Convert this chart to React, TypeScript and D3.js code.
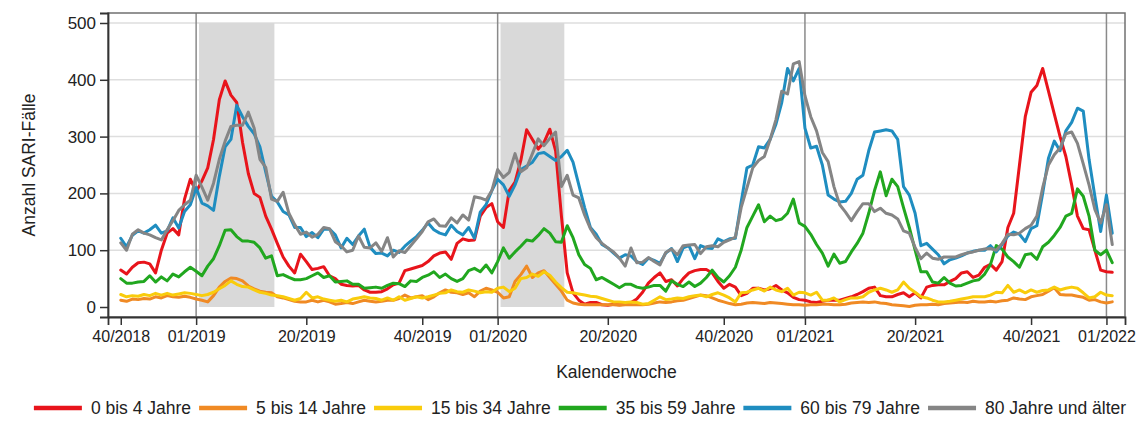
import React, { useEffect, useRef } from 'react';
import * as d3 from 'd3';

// Kalenderwochen 40/2018 .. 02/2022 (2020 hatte 53 Wochen)
const yearSpans: [number, number, number][] = [
  [2018, 40, 52],
  [2019, 1, 52],
  [2020, 1, 53],
  [2021, 1, 52],
  [2022, 1, 2],
];
const weeks: string[] = [];
yearSpans.forEach(([year, from, to]) => {
  for (let w = from; w <= to; w++) weeks.push(`${String(w).padStart(2, '0')}/${year}`);
});

const tickLabels = ['40/2018', '01/2019', '20/2019', '40/2019', '01/2020', '20/2020', '40/2020', '01/2021', '20/2021', '40/2021', '01/2022'];
const seasonStarts = ['01/2019', '01/2020', '01/2021', '01/2022'];
const shadedPeriods: [string, string][] = [['02/2019', '14/2019'], ['02/2020', '12/2020']];
const yTicks = [0, 100, 200, 300, 400, 500];

const seriesNames = ['0 bis 4 Jahre', '5 bis 14 Jahre', '15 bis 34 Jahre', '35 bis 59 Jahre', '60 bis 79 Jahre', '80 Jahre und älter'];
const seriesColors = ['#e8141b', '#f08a24', '#f9cc0c', '#21a71f', '#1f8dc0', '#858585'];

const age0to4 = [
  65, 58, 70, 78, 79, 76, 60, 100, 130, 138,
  127, 190, 225, 203, 222, 245, 295, 365, 398, 373,
  360, 290, 235, 200, 193, 160, 137, 112, 88, 72,
  60, 93, 80, 66, 68, 71, 55, 50, 40, 38,
  37, 38, 30, 26, 26, 27, 32, 39, 42, 64,
  67, 70, 73, 80, 90, 95, 97, 84, 112, 120,
  117, 118, 160, 175, 182, 150, 140, 205, 220, 258,
  312, 295, 278, 290, 313, 275, 160, 60, 25, 12,
  5, 8, 8, 4, 3, 5, 4, 5, 8, 14,
  26, 42, 52, 60, 45, 48, 37, 50, 60, 64,
  66, 66, 60, 45, 33, 40, 35, 20, 24, 33,
  33, 30, 32, 38, 30, 25, 17, 13, 12, 9,
  8, 10, 12, 12, 12, 15, 18, 22, 27, 33,
  35, 20, 18, 18, 22, 25, 18, 25, 16, 35,
  38, 39, 39, 45, 50, 60, 62, 52, 56, 70,
  75, 65, 80, 140, 165, 250, 335, 378, 390, 420,
  380, 340, 300, 265, 215, 160, 138, 136, 100, 65,
  62, 61,
];

const age5to14 = [
  12, 10, 14, 13, 15, 14, 18, 16, 20, 18,
  17, 19, 17, 14, 12, 9, 20, 35, 45, 51,
  50, 46, 37, 32, 28, 26, 25, 18, 16, 13,
  10, 9, 9, 12, 9, 12, 9, 5, 6, 8,
  6, 9, 12, 10, 9, 10, 12, 12, 15, 21,
  16, 18, 20, 13, 18, 25, 30, 26, 25, 22,
  25, 18, 28, 33, 30, 26, 16, 18, 45, 57,
  72, 52, 60, 64, 52, 40, 28, 12, 7, 5,
  4, 4, 4, 4, 4, 4, 3, 4, 4, 4,
  4, 5, 7, 9, 8, 9, 11, 12, 15, 18,
  21, 20, 16, 12, 9, 6, 4, 5, 7, 8,
  7, 6, 8, 7, 6, 5, 4, 4, 3, 4,
  4, 5, 5, 4, 4, 5, 7, 8, 9, 8,
  9, 7, 6, 4, 3, 2, 1, 3, 4, 4,
  5, 4, 6, 7, 8, 9, 8, 10, 9, 9,
  10, 9, 11, 12, 16, 14, 13, 18, 20, 22,
  28, 34, 22, 21, 21, 19, 17, 12, 13, 9,
  7, 9,
];

const age15to34 = [
  22, 18, 20, 19, 22, 20, 24, 21, 24, 21,
  23, 25, 24, 22, 20, 22, 26, 32, 38, 46,
  40, 36, 35, 30, 26, 24, 21, 20, 18, 15,
  12, 15, 26, 16, 18, 14, 12, 10, 12, 9,
  14, 16, 18, 16, 15, 12, 16, 12, 18, 12,
  15, 18, 16, 18, 21, 24, 25, 30, 27, 26,
  30, 28, 25, 27, 26, 33, 35, 27, 33, 50,
  52, 58, 54, 62, 56, 44, 34, 26, 25, 23,
  21, 19, 18, 15, 12, 9, 9, 8, 9, 8,
  5, 6, 12, 18, 13, 14, 16, 15, 18, 20,
  21, 18, 22, 25, 21, 16, 9, 25, 26, 30,
  33, 28, 35, 30, 27, 33, 21, 26, 25, 21,
  26, 12, 12, 16, 9, 13, 16, 16, 18, 26,
  30, 33, 30, 26, 30, 44, 33, 26, 18, 16,
  12, 9, 9, 10, 12, 14, 16, 18, 18, 18,
  21, 26, 25, 38, 26, 30, 25, 30, 26, 29,
  30, 35, 30, 33, 35, 33, 25, 16, 18, 26,
  21, 20,
];

const age35to59 = [
  50, 42, 42, 44, 45, 55, 44, 53, 46, 58,
  53, 62, 70, 63, 55, 72, 85, 108, 135, 136,
  124, 116, 116, 114, 104, 86, 90, 55, 57, 52,
  48, 48, 50, 55, 60, 52, 55, 44, 45, 46,
  40, 40, 33, 34, 35, 33, 38, 42, 41, 36,
  46, 45, 52, 56, 62, 52, 58, 50, 45, 50,
  64, 68, 62, 74, 60, 80, 104, 86, 97, 107,
  118, 116, 126, 138, 130, 115, 114, 143, 122, 92,
  75, 68, 48, 52, 46, 40, 34, 40, 40, 35,
  33, 35, 38, 38, 28, 46, 40, 36, 44, 36,
  42, 52, 65, 52, 44, 55, 70, 100, 140, 160,
  180, 150, 160, 152, 155, 165, 190, 148, 142, 128,
  110, 95, 72, 93, 77, 80, 97, 112, 130, 165,
  205, 238, 196, 225, 212, 175, 140, 100, 62, 62,
  44, 42, 52, 42, 37, 38, 42, 46, 48, 58,
  75, 108, 102, 88, 80, 70, 92, 94, 84, 106,
  114, 126, 140, 160, 165, 208, 195, 160, 100, 92,
  100, 78,
];

const age60to79 = [
  121, 106, 126, 134, 130, 136, 144, 130, 134, 157,
  139, 168, 180, 210, 183, 178, 170, 230, 282, 295,
  355, 335, 318, 305, 282, 238, 195, 185, 168, 162,
  140, 140, 124, 131, 122, 137, 137, 127, 104, 121,
  110, 125, 137, 105, 94, 95, 90, 100, 96, 107,
  116, 124, 135, 148, 136, 130, 127, 144, 133, 127,
  140, 121, 167, 180, 205, 225, 215, 195, 215, 242,
  248, 255, 270, 272, 265, 258, 265, 276, 255, 215,
  175, 140, 128, 110, 104, 95, 86, 92, 90, 80,
  75, 86, 82, 77, 95, 103, 80, 104, 108, 85,
  108, 104, 103, 120, 115, 120, 121, 185, 245, 250,
  282, 280, 295, 322, 360, 420, 398, 420, 315, 280,
  283, 250, 197, 190, 185, 186, 200, 225, 232, 275,
  308, 310, 312, 310, 295, 212, 197, 165, 108, 112,
  102, 92, 76, 83, 86, 90, 95, 98, 100, 100,
  108, 97, 110, 125, 132, 128, 115, 138, 143, 200,
  262, 292, 275, 310, 325, 350, 345, 260, 195, 133,
  197, 130,
];

const age80plus = [
  113, 100, 128, 136, 130, 127, 122, 118, 136, 152,
  170, 180, 188, 232, 211, 188, 218, 260, 292, 318,
  320, 320, 343, 315, 260, 246, 190, 186, 202, 165,
  145, 128, 132, 123, 128, 140, 138, 115, 108, 97,
  100, 125, 105, 104, 113, 98, 122, 88, 99, 96,
  108, 120, 133, 150, 155, 143, 142, 157, 148, 162,
  153, 194, 192, 188, 205, 242, 228, 237, 270, 238,
  245, 270, 296, 284, 297, 308, 212, 232, 197, 192,
  162, 138, 122, 112, 104, 97, 86, 72, 104, 78,
  79, 87, 80, 74, 96, 102, 92, 108, 109, 110,
  94, 106, 108, 106, 114, 118, 123, 175, 210, 245,
  258, 265, 295, 330, 380, 375, 428, 432, 372, 335,
  310, 272, 256, 212, 180, 167, 152, 168, 182, 182,
  168, 174, 165, 162, 155, 134, 130, 105, 85, 95,
  86, 84, 88, 88, 88, 92, 95, 97, 100, 102,
  103, 100, 112, 128, 127, 130, 138, 144, 160, 210,
  250, 268, 280, 305, 308, 288, 252, 215, 172, 148,
  180, 110,
];

const seriesValues = [age0to4, age5to14, age15to34, age35to59, age60to79, age80plus];

const W = 1148;
const H = 426;
const FONT = '"Liberation Sans", Arial, Helvetica, sans-serif';

const App: React.FC = () => {
  const svgRef = useRef<SVGSVGElement>(null);

  useEffect(() => {
    if (!svgRef.current) return;
    const svg = d3.select(svgRef.current);
    svg.selectAll('*').remove();

    const plot = { left: 108, right: 1125, top: 13, bottom: 317 };

    const x = d3.scaleLinear()
      .domain([-2.2, weeks.length + 1.2])
      .range([plot.left, plot.right]);
    const y = d3.scaleLinear()
      .domain([-17.6, 517.6])
      .range([plot.bottom, plot.top]);
    const wx = (label: string) => x(weeks.indexOf(label));
    const halfWeek = (x(1) - x(0)) / 2;

    svg.append('rect').attr('width', W).attr('height', H).attr('fill', '#fff');

    // Gitternetz
    svg.append('g')
      .selectAll('line')
      .data(yTicks.filter(t => t > 0))
      .join('line')
      .attr('x1', plot.left).attr('x2', plot.right)
      .attr('y1', d => y(d)).attr('y2', d => y(d))
      .attr('stroke', '#dedede').attr('stroke-width', 1.5);

    // schattierte Zeiträume
    svg.append('g')
      .selectAll('rect')
      .data(shadedPeriods)
      .join('rect')
      .attr('x', d => wx(d[0]) - halfWeek)
      .attr('width', d => wx(d[1]) - wx(d[0]) + 2 * halfWeek)
      .attr('y', y(500))
      .attr('height', y(0) - y(500))
      .attr('fill', '#d9d9d9');

    // Jahreswechsel
    svg.append('g')
      .selectAll('line')
      .data(seasonStarts)
      .join('line')
      .attr('x1', d => wx(d)).attr('x2', d => wx(d))
      .attr('y1', plot.top).attr('y2', plot.bottom)
      .attr('stroke', '#8a8a8a').attr('stroke-width', 1.5);

    // Linien
    const line = d3.line<number>()
      .x((_, i) => x(i))
      .y(d => y(d));

    svg.append('g')
      .selectAll('path')
      .data(seriesValues)
      .join('path')
      .attr('d', d => line(d))
      .attr('fill', 'none')
      .attr('stroke', (_, i) => seriesColors[i])
      .attr('stroke-width', 3)
      .attr('stroke-linejoin', 'round')
      .attr('stroke-linecap', 'round');

    // Rahmen
    svg.append('rect')
      .attr('x', plot.left).attr('y', plot.top)
      .attr('width', plot.right - plot.left).attr('height', plot.bottom - plot.top)
      .attr('fill', 'none').attr('stroke', '#707070').attr('stroke-width', 1.5);

    // Achsen
    const yAxis = svg.append('g')
      .attr('transform', `translate(${plot.left},0)`)
      .call(d3.axisLeft(y).tickValues(yTicks).tickSize(8).tickPadding(4));
    yAxis.select('.domain').attr('stroke', '#333').attr('stroke-width', 1.8);
    yAxis.selectAll('.tick line').attr('stroke', '#333').attr('stroke-width', 1.5);
    yAxis.selectAll('.tick text')
      .attr('font-family', FONT).attr('font-size', 17).attr('fill', '#222');

    const xAxis = svg.append('g')
      .attr('transform', `translate(0,${plot.bottom})`)
      .call(d3.axisBottom(x)
        .tickValues(tickLabels.map(l => weeks.indexOf(l)))
        .tickFormat(i => weeks[i as number])
        .tickSize(8).tickPadding(6));
    xAxis.select('.domain').attr('stroke', '#333').attr('stroke-width', 1.8);
    xAxis.selectAll('.tick line').attr('stroke', '#333').attr('stroke-width', 1.5);
    xAxis.selectAll('.tick text')
      .attr('font-family', FONT).attr('font-size', 16).attr('fill', '#222');

    // Achsentitel
    svg.append('text')
      .attr('transform', `translate(35,${(plot.top + plot.bottom) / 2}) rotate(-90)`)
      .attr('text-anchor', 'middle')
      .attr('font-family', FONT).attr('font-size', 17.5).attr('fill', '#222')
      .text('Anzahl SARI-Fälle');

    svg.append('text')
      .attr('x', (plot.left + plot.right) / 2).attr('y', 378)
      .attr('text-anchor', 'middle')
      .attr('font-family', FONT).attr('font-size', 17.5).attr('fill', '#222')
      .text('Kalenderwoche');

    // Legende
    const legend = svg.append('g');
    const items = legend.selectAll('g')
      .data(seriesNames)
      .join('g');
    items.append('line')
      .attr('x1', 0).attr('x2', 48).attr('y1', 0).attr('y2', 0)
      .attr('stroke', (_, i) => seriesColors[i]).attr('stroke-width', 4.5);
    items.append('text')
      .attr('x', 57).attr('y', 6)
      .attr('font-family', FONT).attr('font-size', 17.5).attr('fill', '#222')
      .text(d => d);

    let cursor = 0;
    const gap = 8;
    items.each(function () {
      const g = d3.select(this);
      const tw = (g.select('text').node() as SVGTextElement).getComputedTextLength();
      g.attr('transform', `translate(${cursor},0)`);
      cursor += 57 + tw + gap;
    });
    const total = cursor - gap;
    legend.attr('transform', `translate(${(W - total) / 2 + 6},408)`);
  }, []);

  return (
    <div style={{ position: 'absolute', left: 0, top: 0, width: W, height: H, background: '#fff' }}>
      <svg ref={svgRef} width={W} height={H} style={{ display: 'block' }} />
    </div>
  );
};

export default App;
